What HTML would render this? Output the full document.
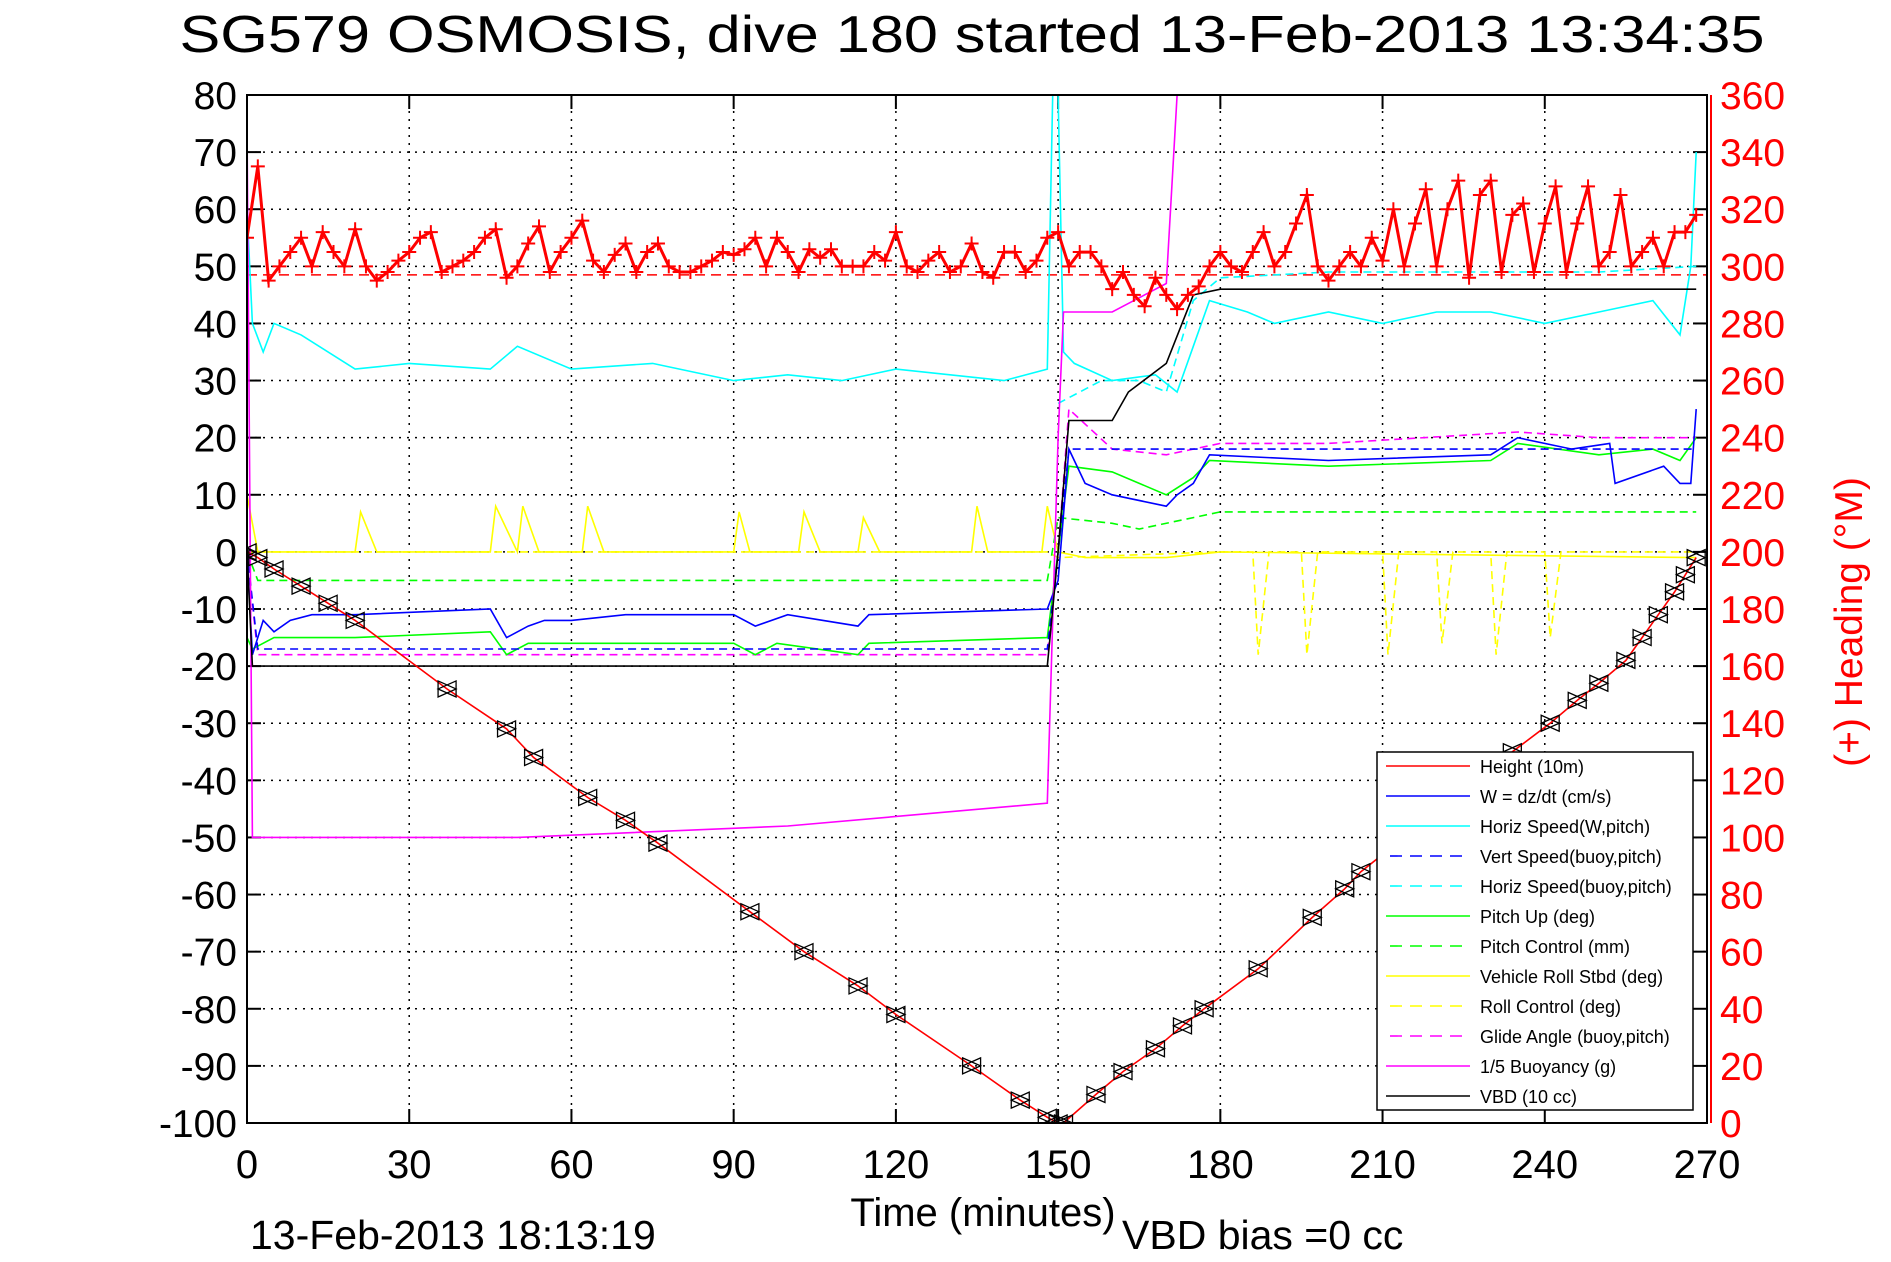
<!DOCTYPE html>
<html><head><meta charset="utf-8"><style>
html,body{margin:0;padding:0;background:#fff;}
svg{display:block;font-family:"Liberation Sans",sans-serif;}
</style></head><body>
<svg id="chart" width="1891" height="1262" xmlns="http://www.w3.org/2000/svg"></svg>
<script>
// ---- data ----
const xTicks=[0,30,60,90,120,150,180,210,240,270];
const yTicks=[80,70,60,50,40,30,20,10,0,-10,-20,-30,-40,-50,-60,-70,-80,-90,-100];
const hTicks=[360,340,320,300,280,260,240,220,200,180,160,140,120,100,80,60,40,20,0];
const depthT=[0,2,5,10,15,20,37,48,53,63,70,76,93,103,113,120,134,143,148,150,151,157,162,168,173,177,187,197,203,206,234,241,246,250,255,258,261,264,266,268];
const depthV=[0,-1,-3,-6,-9,-12,-24,-31,-36,-43,-47,-51,-63,-70,-76,-81,-90,-96,-99,-100,-100,-95,-91,-87,-83,-80,-73,-64,-59,-56,-35,-30,-26,-23,-19,-15,-11,-7,-4,-1];
const headT=[0,2,4,6,8,10,12,14,16,18,20,22,24,26,28,30,32,34,36,38,40,42,44,46,48,50,52,54,56,58,60,62,64,66,68,70,72,74,76,78,80,82,84,86,88,90,92,94,96,98,100,102,104,106,108,110,112,114,116,118,120,122,124,126,128,130,132,134,136,138,140,142,144,146,148,150,152,154,156,158,160,162,164,166,168,170,172,174,176,178,180,182,184,186,188,190,192,194,196,198,200,202,204,206,208,210,212,214,216,218,220,222,224,226,228,230,232,234,236,238,240,242,244,246,248,250,252,254,256,258,260,262,264,266,268];
const headV=[310,335,295,300,305,310,300,312,305,300,313,300,295,298,302,305,310,312,298,300,302,305,310,313,296,300,308,314,298,305,310,316,302,298,304,308,298,305,308,300,298,298,300,302,305,304,306,310,300,310,305,298,306,303,306,300,300,300,305,302,312,300,298,302,305,298,300,308,298,296,305,305,298,302,310,312,300,305,305,300,292,298,290,286,296,290,285,290,293,300,305,300,298,305,312,300,305,315,325,300,295,300,305,300,310,302,320,300,315,327,300,320,330,296,325,330,298,318,322,298,315,328,298,315,328,300,305,325,300,305,310,300,312,312,318];
const wT=[0,1,3,5,8,12,20,45,48,52,55,60,70,90,94,100,113,115,148,150,152,155,160,170,172,175,178,200,230,235,245,252,253,262,265,267,268];
const wV=[0,-18,-12,-14,-12,-11,-11,-10,-15,-13,-12,-12,-11,-11,-13,-11,-13,-11,-10,-5,18,12,10,8,10,12,17,16,17,20,18,19,12,15,12,12,25];
const hsT=[0,1,3,5,10,20,30,45,50,60,75,80,90,100,110,120,130,140,148,149,150,151,153,160,168,172,175,178,185,190,200,210,220,230,240,250,260,265,267,268];
const hsV=[60,40,35,40,38,32,33,32,36,32,33,32,30,31,30,32,31,30,32,80,80,35,33,30,31,28,36,44,42,40,42,40,42,42,40,42,44,38,50,70];
const hsbT=[150,158,165,170,175,180,200,220,250,268];
const hsbV=[26,30,30,28,44,48,49,49,49,50];
const vsbT=[0,2,148,150,152,268];
const vsbV=[0,-17,-17,0,18,18];
const pitchT=[0,1,5,20,45,48,52,90,94,98,113,115,148,150,152,160,170,175,178,200,230,235,250,260,265,268];
const pitchV=[-15,-17,-15,-15,-14,-18,-16,-16,-18,-16,-18,-16,-15,0,15,14,10,13,16,15,16,19,17,18,16,20];
const pcT=[0,2,148,150,160,165,175,180,268];
const pcV=[0,-5,-5,6,5,4,6,7,7];
const rollT=[0,2,20,21,24,45,46,50,51,54,62,63,66,90,91,93,102,103,106,113,114,117,134,135,137,147,148,150,155,170,180,268];
const rollV=[10,0,0,7,0,0,8,0,8,0,0,8,0,0,7,0,0,7,0,0,6,0,0,8,0,0,8,0,-1,-1,0,-1];
const rcT=[0,2,148,150,180,186,187,189,195,196,198,210,211,213,220,221,223,230,231,233,240,241,243,250,268];
const rcV=[0,0,0,-1,0,0,-18,0,0,-18,0,0,-18,0,0,-16,0,0,-18,0,0,-15,0,0,0];
const glideT=[0,2,148,150,152,160,170,175,180,200,235,250,268];
const glideV=[0,-18,-18,0,25,18,17,18,19,19,21,20,20];
const buoyT=[0,1,50,100,148,150,151,160,170,172,176];
const buoyV=[75,-50,-50,-48,-44,20,42,42,47,80,160];
const vbdT=[0,1,148,150,152,160,163,170,175,180,268];
const vbdV=[0,-20,-20,0,23,23,28,33,45,46,46];

// ---- axes ----
const L=247,R=1707,T=95,B=1123;
const sx=t=>L+(t-0)/270*(R-L);
const sy=v=>T+(80-v)/180*(B-T);
const sh=h=>B-(h/360)*(B-T);
const svg=document.getElementById('chart');
const NS='http://www.w3.org/2000/svg';
function mk(tag,attrs,parent){const e=document.createElementNS(NS,tag);for(const k in attrs)e.setAttribute(k,attrs[k]);(parent||svg).appendChild(e);return e;}
function clipPts(ts,vs,f){return ts.map((t,i)=>sx(t).toFixed(1)+','+f(vs[i]).toFixed(1)).join(' ');}

const cp=mk('clipPath',{id:'pc'});
mk('rect',{x:L,y:T,width:R-L,height:B-T},cp);

let t=mk('text',{x:972,y:52,'font-size':52,'text-anchor':'middle',textLength:1585,lengthAdjust:'spacingAndGlyphs'});
t.textContent='SG579 OSMOSIS, dive 180 started 13-Feb-2013 13:34:35';



const grid=mk('g',{stroke:'#000','stroke-width':1.5,'stroke-dasharray':'2,6'});


xTicks.forEach(v=>{mk('line',{x1:sx(v),x2:sx(v),y1:T,y2:B},grid);});
yTicks.forEach(v=>{mk('line',{x1:L,x2:R,y1:sy(v),y2:sy(v)},grid);});

const xa=mk('g',{'font-size':40,'text-anchor':'middle'});


xTicks.forEach(v=>{const e=mk('text',{x:sx(v),y:1192-14},xa);e.textContent=v;
 mk('line',{x1:sx(v),x2:sx(v),y1:B,y2:B-14,stroke:'#000','stroke-width':2},xa);mk('line',{x1:sx(v),x2:sx(v),y1:T,y2:T+14,stroke:'#000','stroke-width':2},xa);});
const ya=mk('g',{'font-size':39,'text-anchor':'end'});


yTicks.forEach(v=>{const e=mk('text',{x:237,y:sy(v)+14},ya);e.textContent=v;
 mk('line',{x1:L,x2:L+14,y1:sy(v),y2:sy(v),stroke:'#000','stroke-width':2},ya);});
const ha=mk('g',{'font-size':39,'text-anchor':'start',fill:'#f00'});


hTicks.forEach(v=>{const e=mk('text',{x:1720,y:sh(v)+14},ha);e.textContent=v;
 mk('line',{x1:R-14,x2:R,y1:sh(v),y2:sh(v),stroke:'#000','stroke-width':2},ha);});

t=mk('text',{x:983,y:1226,'font-size':40,'text-anchor':'middle'});t.textContent='Time (minutes)';


t=mk('text',{x:250,y:1249,'font-size':41});t.textContent='13-Feb-2013 18:13:19';


t=mk('text',{x:1122,y:1249,'font-size':41});t.textContent='VBD bias =0 cc';


t=mk('text',{x:0,y:0,'font-size':39,fill:'#f00','text-anchor':'middle',transform:'translate(1862,622) rotate(-90)'});t.textContent='(+) Heading (°M)';



const plot=mk('g',{'clip-path':'url(#pc)',fill:'none','stroke-width':1.6});


function line(ts,vs,color,dash,name,f,w){const p=mk('polyline',{points:clipPts(ts,vs,f||sy),stroke:color,'stroke-dasharray':dash||'none','stroke-width':w||1.6},plot);
 return p;}
let hd=mk('line',{x1:L,x2:R,y1:sh(297),y2:sh(297),stroke:'#f00','stroke-dasharray':'10,6','stroke-width':1.5},plot);


line(rollT,rollV,'#ff0',null,'vehicle-roll-line');
line(rcT,rcV,'#ff0','8,5','roll-control-line');
line(hsT,hsV,'#0ff',null,'horiz-speed-line');
line(hsbT,hsbV,'#0ff','8,5','horiz-speed-buoy-line');
line(pcT,pcV,'#0f0','8,5','pitch-control-line');
line(glideT,glideV,'#f0f','8,5','glide-angle-line');
line(pitchT,pitchV,'#0f0',null,'pitch-up-line');
line(vsbT,vsbV,'#00f','8,5','vert-speed-buoy-line');
line(wT,wV,'#00f',null,'w-dzdt-line');
line(buoyT,buoyV,'#f0f',null,'buoyancy-line');
line(vbdT,vbdV,'#000',null,'vbd-line');
line(depthT,depthV,'#f00',null,'height-line');
const tri=mk('g',{fill:'none',stroke:'#000','stroke-width':1.3},plot);


depthT.forEach((tt,i)=>{const x=sx(tt),y=sy(depthV[i]);
 mk('path',{d:`M${x-9},${y-8}L${x+9},${y}L${x-9},${y+8}Z M${x+9},${y-8}L${x-9},${y}L${x+9},${y+8}Z`},tri);});
line(headT,headV,'#f00',null,'heading-trace',sh,3);
const hg=mk('g',{stroke:'#f00','stroke-width':2},plot);


headT.forEach((tt,i)=>{const x=sx(tt),y=sh(headV[i]);
 mk('path',{d:`M${x-7},${y}H${x+7}M${x},${y-7}V${y+7}`},hg);});

mk('rect',{x:L,y:T,width:R-L,height:B-T,fill:'none',stroke:'#000','stroke-width':2});
mk('line',{x1:1711,x2:1711,y1:T,y2:B,stroke:'#f00','stroke-width':2});

const legNames=['Height (10m)','W = dz/dt (cm/s)','Horiz Speed(W,pitch)','Vert Speed(buoy,pitch)','Horiz Speed(buoy,pitch)','Pitch Up (deg)','Pitch Control (mm)','Vehicle Roll Stbd (deg)','Roll Control (deg)','Glide Angle (buoy,pitch)','1/5 Buoyancy (g)','VBD (10 cc)'];
const legColors=['#f00','#00f','#0ff','#00f','#0ff','#0f0','#0f0','#ff0','#ff0','#f0f','#f0f','#000'];
const legDash=[0,0,0,1,1,0,1,0,1,1,0,0];
const lg=mk('g',{});


mk('rect',{x:1377,y:752,width:316,height:358,fill:'#fff',stroke:'#000','stroke-width':1.5},lg);
legNames.forEach((n,i)=>{const y=766+i*30;
 const ent=mk('g',{},lg);
 
 
 mk('line',{x1:legDash[i]?1390:1386,x2:1470,y1:y,y2:y,stroke:legColors[i],'stroke-width':1.6,'stroke-dasharray':legDash[i]?'12,8':'none'},ent);
 const tx=mk('text',{x:1480,y:y+7,'font-size':18},ent);tx.textContent=n;});
</script>
</body></html>
